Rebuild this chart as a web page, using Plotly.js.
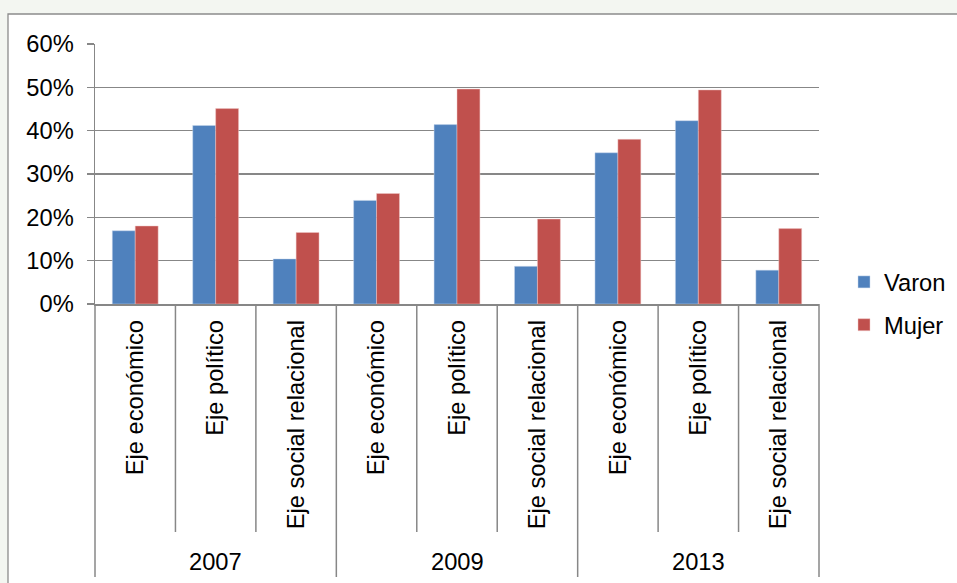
<!DOCTYPE html>
<html>
<head>
<meta charset="utf-8">
<script src="https://cdn.plot.ly/plotly-3.0.1.min.js"></script>
<style>
  html, body { margin: 0; padding: 0; background: #f3f6f1; }
  #chart { width: 957px; height: 583px; }
</style>
</head>
<body>
<div id="chart"></div>
<script>
// ---- data ----
const years = ["2007", "2009", "2013"];
const ejes = ["Eje económico", "Eje político", "Eje social relacional"];
const varon = [16.9, 41.2, 10.4, 23.9, 41.4, 8.7, 34.9, 42.3, 7.8];
const mujer = [18.0, 45.1, 16.5, 25.5, 49.6, 19.6, 38.0, 49.4, 17.4];
const yTicks = [0, 10, 20, 30, 40, 50, 60];
const seriesNames = ["Varon", "Mujer"];

// ---- derived category positions ----
const labels = [];
years.forEach(() => ejes.forEach(e => labels.push(e)));
const xIdx = labels.map((_, i) => i);
const nCat = labels.length;
const perGroup = ejes.length;

const FONT = "Liberation Sans, Arial, sans-serif";
const FS = 23.7;
const GRID = "#878787";

// plot-area geometry in pixels (for decoration placement)
const W = 957, H = 583;
const M = { l: 95, r: 138, t: 44, b: 279, autoexpand: false };
const plotH = H - M.t - M.b;
const plotW = W - M.l - M.r;
const pyToPaper = py => (H - M.b - py) / plotH;
const pxToPaper = px => (px - M.l) / plotW;

const traces = [
  { type: "bar", name: seriesNames[0], x: xIdx, y: varon, legendgroup: "a",
    marker: { color: "#4F81BD", line: { color: "rgba(200,215,235,0.6)", width: 0.8 } } },
  { type: "bar", name: seriesNames[1], x: xIdx, y: mujer, legendgroup: "b",
    marker: { color: "#C0504D", line: { color: "rgba(240,200,200,0.6)", width: 0.8 } } }
];

// category separators (short within a year, long between years)
const shapes = [];
for (let b = 0; b <= nCat; b++) {
  const long = b % perGroup === 0;
  shapes.push({
    type: "line", xref: "x domain", yref: "paper",
    x0: b / nCat, x1: b / nCat,
    y0: 0, y1: pyToPaper(long ? 577 : 532),
    line: { color: GRID, width: 1.5 }
  });
}
// outer chart border
shapes.push({
  type: "rect", xref: "paper", yref: "paper", layer: "below",
  x0: pxToPaper(8), x1: pxToPaper(975), y0: pyToPaper(14), y1: pyToPaper(600),
  line: { color: "#8c8c8c", width: 1.3 }, fillcolor: "#ffffff"
});

// year labels
const annotations = years.map((yr, g) => ({
  xref: "x", yref: "paper",
  x: g * perGroup + (perGroup - 1) / 2, y: pyToPaper(561.5),
  text: yr, showarrow: false, xanchor: "center", yanchor: "middle",
  font: { family: FONT, size: FS, color: "#000" }
}));

const layout = {
  width: W, height: H,
  margin: M,
  paper_bgcolor: "rgba(0,0,0,0)",
  plot_bgcolor: "#ffffff",
  font: { family: FONT, size: FS, color: "#000" },
  barmode: "group",
  bargap: 0.43,
  bargroupgap: 0,
  xaxis: {
    range: [-0.5, nCat - 0.5],
    tickmode: "array", tickvals: xIdx, ticktext: labels,
    tickangle: -90, ticks: "", ticklabelstandoff: 5,
    showgrid: false, zeroline: false,
    showline: true, linecolor: GRID, linewidth: 1.5,
    tickfont: { family: FONT, size: FS, color: "#000" },
    fixedrange: true
  },
  yaxis: {
    range: [0, 60],
    tickmode: "array", tickvals: yTicks, ticktext: yTicks.map(v => v + "%"),
    ticks: "outside", ticklen: 7, tickcolor: GRID, tickwidth: 1.5,
    ticklabelstandoff: 8,
    showgrid: true, gridcolor: GRID, gridwidth: 1.5,
    zeroline: false,
    showline: true, linecolor: GRID, linewidth: 1.5,
    tickfont: { family: FONT, size: FS, color: "#000" },
    fixedrange: true
  },
  showlegend: true,
  legend: {
    x: pxToPaper(844), xanchor: "left",
    y: pyToPaper(260), yanchor: "top",
    traceorder: "grouped", tracegroupgap: 9,
    bgcolor: "rgba(0,0,0,0)", borderwidth: 0,
    font: { family: FONT, size: FS, color: "#000" }
  },
  shapes: shapes,
  annotations: annotations
};

Plotly.newPlot("chart", traces, layout, { displayModeBar: false, staticPlot: true });
</script>
</body>
</html>
